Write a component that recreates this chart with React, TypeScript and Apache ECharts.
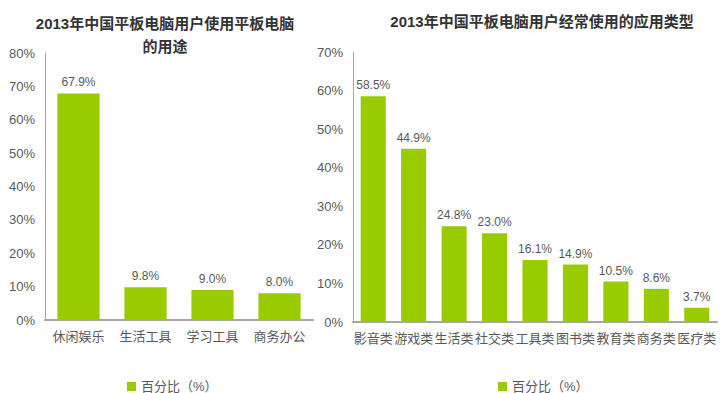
import React, { useEffect, useRef } from "react";
import * as echarts from "echarts";

const leftCategories = ["休闲娱乐", "生活工具", "学习工具", "商务办公"];
const leftValues = [67.9, 9.8, 9.0, 8.0];
const rightCategories = ["影音类", "游戏类", "生活类", "社交类", "工具类", "图书类", "教育类", "商务类", "医疗类"];
const rightValues = [58.5, 44.9, 24.8, 23.0, 16.1, 14.9, 10.5, 8.6, 3.7];
const seriesName = "百分比（%）";

const GREEN = "#99CC00";
const AXIS = "#a6a6a6";
const TEXT = "#595959";
const FONT = "'Liberation Sans', 'Noto Sans CJK SC', sans-serif";

export default function App() {
  const ref = useRef<HTMLDivElement>(null);
  useEffect(() => {
    if (!ref.current) return;
    const chart = echarts.init(ref.current, null, { renderer: "svg" });
    const yAxisCommon = (max: number) => ({
      type: "value" as const,
      min: 0,
      max,
      interval: 10,
      axisLine: { show: true, lineStyle: { color: AXIS, width: 1 } },
      axisTick: { show: false },
      splitLine: { show: false },
      axisLabel: { color: TEXT, fontSize: 13, fontFamily: FONT, margin: 10, formatter: "{value}%" },
    });
    const xAxisCommon = (data: string[], gi: number) => ({
      type: "category" as const,
      gridIndex: gi,
      data,
      axisLine: { show: true, lineStyle: { color: AXIS, width: 2 } },
      axisTick: { show: false },
      axisLabel: { color: TEXT, fontSize: 13, fontFamily: FONT, margin: 10, interval: 0 },
    });
    const labelCommon = {
      show: true,
      position: "top" as const,
      color: TEXT,
      fontSize: 12,
      fontFamily: FONT,
      formatter: (p: any) => p.value.toFixed(1) + "%",
    };
    const legendCommon = {
      itemWidth: 9,
      itemHeight: 9,
      icon: "rect",
      top: 375,
      textStyle: { color: TEXT, fontSize: 13, fontFamily: FONT },
    };
    chart.setOption({
      animation: false,
      backgroundColor: "#ffffff",
      title: [
        {
          text: "2013年中国平板电脑用户使用平板电脑\n的用途",
          left: 160,
          textAlign: "center",
          top: 7,
          textStyle: { fontSize: 15, fontWeight: "bold", color: "#333333", fontFamily: FONT, lineHeight: 23 },
        },
        {
          text: "2013年中国平板电脑用户经常使用的应用类型",
          left: 537,
          textAlign: "center",
          top: 9,
          textStyle: { fontSize: 15, fontWeight: "bold", color: "#333333", fontFamily: FONT },
        },
      ],
      legend: [
        { ...legendCommon, data: [seriesName], left: 122 },
        { ...legendCommon, data: [seriesName + " "], left: 493 },
      ],
      grid: [
        { left: 45, top: 53, width: 268, bottom: 73, containLabel: false },
        { left: 353, top: 52, width: 364, bottom: 71, containLabel: false },
      ],
      xAxis: [xAxisCommon(leftCategories, 0), xAxisCommon(rightCategories, 1)],
      yAxis: [
        { ...yAxisCommon(80), gridIndex: 0 },
        { ...yAxisCommon(70), gridIndex: 1 },
      ],
      series: [
        {
          name: seriesName,
          type: "bar",
          xAxisIndex: 0,
          yAxisIndex: 0,
          data: leftValues,
          barWidth: "63%",
          itemStyle: { color: GREEN },
          label: labelCommon,
        },
        {
          name: seriesName + " ",
          type: "bar",
          xAxisIndex: 1,
          yAxisIndex: 1,
          data: rightValues,
          barWidth: "62%",
          itemStyle: { color: GREEN },
          label: labelCommon,
        },
      ],
    });
    return () => chart.dispose();
  }, []);
  return <div ref={ref} style={{ width: 727, height: 393, position: "fixed", left: 0, top: 0 }} />;
}
